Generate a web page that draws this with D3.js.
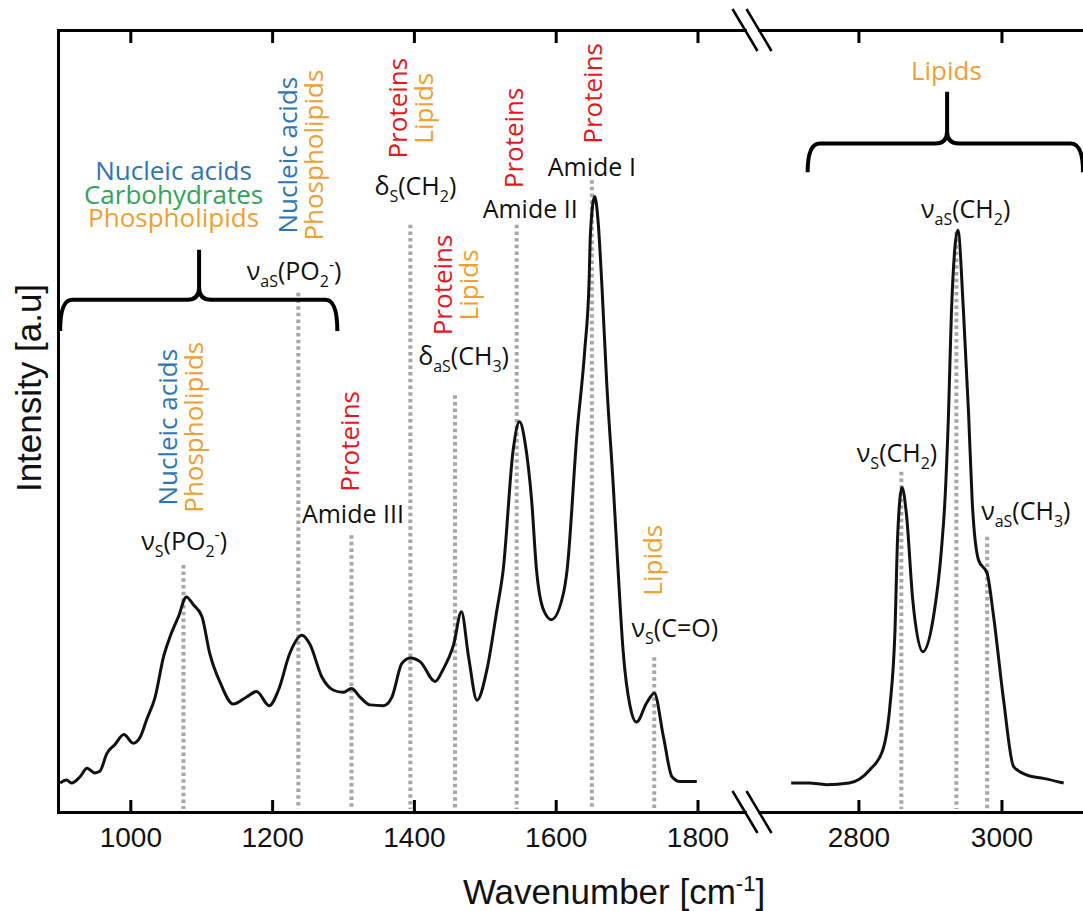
<!DOCTYPE html>
<html><head><meta charset="utf-8">
<script src="https://cdn.jsdelivr.net/npm/d3@7"></script>
<style>body{margin:0;background:#fff}svg{display:block}</style>
</head><body><svg id="chart" width="1083" height="911"></svg>
<script>
// ---------- data ----------
const leftWavenumber = [901,910,917,929,939,950,957,967,978,991,1004,1014,1023,1035,1047,1056,1068,1079,1089,1101,1112,1127,1145,1164,1178,1196,1209,1225,1242,1253,1270,1286,1300,1312,1324,1338,1357,1369,1383,1395,1409,1430,1441,1456,1467,1477,1489,1503,1517,1526,1540,1549,1557,1566,1573,1583,1594,1611,1616,1630,1641,1647,1649,1655,1660,1665,1672,1681,1688,1695,1705,1714,1728,1739,1752,1764,1775,1799];
const leftIntensity  = [3.7,4.1,3.7,4.5,5.6,5.0,5.2,7.5,8.6,9.9,8.8,9.6,11.8,14.7,19.9,22.4,25.0,27.5,26.5,25.0,20.3,16.5,13.8,14.7,15.4,13.6,15.6,20.3,22.6,21.5,17.3,15.6,15.3,15.8,14.7,13.7,13.6,14.7,19.0,19.7,19.2,16.7,18.2,21.4,25.6,19.9,14.3,18.2,25.8,31.0,46.3,49.9,47.1,39.9,30.9,25.8,24.6,28.0,30.9,48.4,59.1,67.6,74.0,78.7,75.3,67.6,54.8,42.0,30.9,20.7,13.5,11.5,13.9,15.2,9.6,4.5,3.9,3.9];
const rightWavenumber = [2706,2731,2755,2787,2816,2834,2844,2851,2855,2861,2867,2876,2890,2905,2916,2921,2926,2930,2939,2947,2954,2959,2968,2980,2989,3003,3017,3036,3059,3087];
const rightIntensity  = [3.7,3.7,3.5,3.7,5.4,7.9,13.5,22.9,35.6,41.5,38.2,27.1,20.5,25.0,33.5,39.9,51.0,63.8,74.4,63.8,51.0,39.9,32.2,30.5,25.0,14.3,5.8,4.7,4.3,3.7];

const leftTicks = [1000,1200,1400,1600,1800];
const rightTicks = [2800,3000];

// peak marker lines: position (cm-1), top of dotted line (intensity units), axis segment
const peakPositions = [1075,1237,1312,1395,1458,1545,1651,1739,2860,2937,2980];
const peakLineTops  = [31.6,66.4,35.4,75.1,53.3,75.1,80.8,19.8,43.5,74.2,35.2];
const peakSegments  = ['L','L','L','L','L','L','L','L','R','R','R'];

// band labels (centre position, baseline level)
const bandLabels = [
  {seg:'L', wn:1076, lvl:33.5, parts:[{t:'ν'},{t:'S',s:'sub'},{t:'(PO'},{t:'2',s:'sub'},{t:'-',s:'sup'},{t:')'}]},
  {seg:'L', wn:1231, lvl:68.0, parts:[{t:'ν'},{t:'aS',s:'sub'},{t:'(PO'},{t:'2',s:'sub'},{t:'-',s:'sup'},{t:')'}]},
  {seg:'L', wn:1314, lvl:37.0, parts:[{t:'Amide III'}]},
  {seg:'L', wn:1402, lvl:78.9, parts:[{t:'δ'},{t:'S',s:'sub'},{t:'(CH'},{t:'2',s:'sub'},{t:')'}]},
  {seg:'L', wn:1470, lvl:57.2, parts:[{t:'δ'},{t:'aS',s:'sub'},{t:'(CH'},{t:'3',s:'sub'},{t:')'}]},
  {seg:'L', wn:1564, lvl:76.0, parts:[{t:'Amide II'}]},
  {seg:'L', wn:1651, lvl:81.3, parts:[{t:'Amide I'}]},
  {seg:'L', wn:1768, lvl:22.4, parts:[{t:'ν'},{t:'S',s:'sub'},{t:'(C=O)'}]},
  {seg:'R', wn:2854, lvl:44.8, parts:[{t:'ν'},{t:'S',s:'sub'},{t:'(CH'},{t:'2',s:'sub'},{t:')'}]},
  {seg:'R', wn:2950, lvl:76.0, parts:[{t:'ν'},{t:'aS',s:'sub'},{t:'(CH'},{t:'2',s:'sub'},{t:')'}]},
  {seg:'R', wn:3034, lvl:37.3, parts:[{t:'ν'},{t:'aS',s:'sub'},{t:'(CH'},{t:'3',s:'sub'},{t:')'}]}
];

const colBlue = '#2E75B6', colGreen = '#2FA556', colOrange = '#F0A030', colRed = '#E8161B';

// vertical (rotated) biomolecule stacks: centre position and centre level
const rotatedGroups = [
  {wn:1070, lvl:49.2, words:[['Nucleic acids',colBlue],['Phospholipids',colOrange]]},
  {wn:1240, lvl:84.0, words:[['Nucleic acids',colBlue],['Phospholipids',colOrange]]},
  {wn:1308, lvl:47.4, words:[['Proteins',colRed]]},
  {wn:1395, lvl:90.0, words:[['Proteins',colRed],['Lipids',colOrange]]},
  {wn:1458, lvl:67.4, words:[['Proteins',colRed],['Lipids',colOrange]]},
  {wn:1540, lvl:86.2, words:[['Proteins',colRed]]},
  {wn:1651, lvl:91.9, words:[['Proteins',colRed]]},
  {wn:1736, lvl:32.2, words:[['Lipids',colOrange]]}
];

// horizontal stacks above braces (first baseline level, then lines)
const braceTexts = [
  {seg:'L', wn:1061, lvl:80.8, lines:[['Nucleic acids',colBlue],['Carbohydrates',colGreen],['Phospholipids',colOrange]]},
  {seg:'R', wn:2923, lvl:93.6, lines:[['Lipids',colOrange]]}
];
// braces: start, centre, end (cm-1); bar level, tip level, point level
const braces = [
  {seg:'L', x0:901, xc:1097, x1:1292, bar:65.5, tip:61.5, top:71.9},
  {seg:'R', x0:2729, xc:2924, x1:3114, bar:85.5, tip:81.8, top:92.1}
];

// ---------- scales ----------
const svg = d3.select('#chart');
const yTop = 30, yBot = 812;
const y = d3.scaleLinear().domain([0,100]).range([yBot, yTop]);
const xL = d3.scaleLinear().domain([898,1867]).range([58,745]);
const xR = d3.scaleLinear().domain([2661,3114]).range([759,1083]);
const xs = {L:xL, R:xR};

const annFont = '"Open Sans", "Noto Sans", sans-serif';
const axFont = '"Liberation Sans", Arial, sans-serif';

// ---------- dotted peak lines ----------
const gPeaks = svg.append('g');
peakPositions.forEach((p,i)=>{
  const sx = xs[peakSegments[i]];
  gPeaks.append('line')
    .attr('x1', sx(p)).attr('x2', sx(p))
    .attr('y1', y(peakLineTops[i])).attr('y2', yBot - 3)
    .attr('stroke', '#a6a6a6').attr('stroke-width', 4)
    .attr('stroke-dasharray', '3.5,3.2');
});

// ---------- curves ----------
const lineL = d3.line().x((d,i)=>xL(leftWavenumber[i])).y(d=>y(d)).curve(d3.curveMonotoneX);
const lineR = d3.line().x((d,i)=>xR(rightWavenumber[i])).y(d=>y(d)).curve(d3.curveMonotoneX);
svg.append('path').attr('d', lineL(leftIntensity)).attr('fill','none').attr('stroke','#111').attr('stroke-width',3).attr('stroke-linejoin','round');
svg.append('path').attr('d', lineR(rightIntensity)).attr('fill','none').attr('stroke','#111').attr('stroke-width',3).attr('stroke-linejoin','round');

// ---------- axes ----------
function styleAxis(g){
  g.select('.domain').attr('stroke','#000').attr('stroke-width',3).attr('stroke-linecap','square');
  g.selectAll('.tick line').attr('stroke','#000').attr('stroke-width',3);
  g.selectAll('.tick text').attr('font-family',axFont).attr('font-size',28).attr('fill','#111');
}
[['L',leftTicks],['R',rightTicks]].forEach(([k,t])=>{
  const gb = svg.append('g').attr('transform',`translate(0,${yBot})`)
    .call(d3.axisBottom(xs[k]).tickValues(t).tickSizeInner(-12).tickSizeOuter(0).tickPadding(15).tickFormat(d3.format('d')));
  styleAxis(gb);
  const gt = svg.append('g').attr('transform',`translate(0,${yTop})`)
    .call(d3.axisTop(xs[k]).tickValues(t).tickSizeInner(-13).tickSizeOuter(0).tickFormat(''));
  styleAxis(gt);
});
const gl = svg.append('g').attr('transform',`translate(${xL.range()[0]},0)`)
  .call(d3.axisLeft(y).tickValues([]).tickSizeOuter(0));
styleAxis(gl);

// axis breaks
[yTop, yBot].forEach(yy=>{
  [xL.range()[1], xR.range()[0]].forEach(bx=>{
    svg.append('line').attr('x1',bx-12.5).attr('y1',yy-21).attr('x2',bx+12.5).attr('y2',yy+21)
      .attr('stroke','#000').attr('stroke-width',2.5);
  });
});

// axis titles
const xt = svg.append('text').attr('x', 614).attr('y', 904).attr('text-anchor','middle')
  .attr('font-family',axFont).attr('font-size',35).attr('fill','#111');
xt.append('tspan').text('Wavenumber [cm');
xt.append('tspan').text('-1').attr('font-size',22).attr('dy',-13);
xt.append('tspan').text(']').attr('dy',13);

svg.append('text').attr('transform','translate(41,388) rotate(-90)').attr('text-anchor','middle')
  .attr('font-family',axFont).attr('font-size',35).attr('fill','#111').text('Intensity [a.u]');

// ---------- annotations ----------
function rich(sel, parts, size){
  let cur = 0;
  parts.forEach(p=>{
    const target = p.s==='sub' ? 0.28*size : p.s==='sup' ? -0.42*size : 0;
    const ts = sel.append('tspan').text(p.t).attr('dy', target-cur);
    if(p.s) ts.attr('font-size', size*0.64);
    cur = target;
  });
}
const gAnn = svg.append('g').attr('font-family', annFont);
bandLabels.forEach(b=>{
  const t = gAnn.append('text').attr('x', xs[b.seg](b.wn)).attr('y', y(b.lvl))
    .attr('text-anchor','middle').attr('font-size',25).attr('fill','#111');
  rich(t, b.parts, 25);
});

rotatedGroups.forEach(g=>{
  const n = g.words.length, cx = xL(g.wn), cy = y(g.lvl);
  g.words.forEach((w,i)=>{
    const x = cx + (i-(n-1)/2)*26;
    gAnn.append('text').attr('transform',`translate(${x},${cy}) rotate(-90)`)
      .attr('text-anchor','middle').attr('dominant-baseline','central')
      .attr('font-size',26).attr('fill',w[1]).text(w[0]);
  });
});

braceTexts.forEach(b=>{
  const x = xs[b.seg](b.wn);
  const t = gAnn.append('text').attr('x', x).attr('y', y(b.lvl))
    .attr('text-anchor','middle').attr('font-size',26);
  b.lines.forEach((l,i)=>{
    t.append('tspan').attr('x', x).attr('dy', i===0 ? 0 : 23.5).attr('fill', l[1]).text(l[0]);
  });
});

braces.forEach(b=>{
  const sx = xs[b.seg];
  const x0=sx(b.x0), xc=sx(b.xc), x1=sx(b.x1), yb=y(b.bar), yt=y(b.tip), yp=y(b.top);
  const r = 12;
  const p = d3.path();
  p.moveTo(x0, yt); p.quadraticCurveTo(x0, yb, x0+r, yb); p.lineTo(xc-r, yb);
  p.quadraticCurveTo(xc, yb, xc, yb-r); p.lineTo(xc, yp);
  p.moveTo(xc, yb-r); p.quadraticCurveTo(xc, yb, xc+r, yb); p.lineTo(x1-r, yb);
  p.quadraticCurveTo(x1, yb, x1, yt);
  svg.append('path').attr('d', p.toString()).attr('fill','none').attr('stroke','#000').attr('stroke-width',4);
});
</script></body></html>
